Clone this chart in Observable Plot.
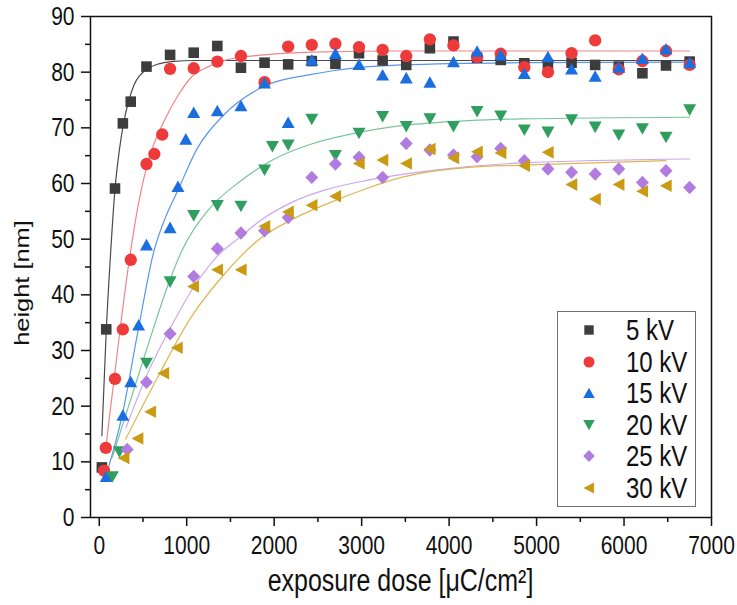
<!DOCTYPE html>
<html>
<head>
<meta charset="utf-8">
<script src="https://cdn.jsdelivr.net/npm/d3@7"></script>
<script src="https://cdn.jsdelivr.net/npm/@observablehq/plot@0.6"></script>
<style>
  body { margin: 0; background: #fff; }
  #wrap { position: relative; width: 737px; height: 605px; font-family: "Liberation Sans", Arial, sans-serif; color: #111; }
  #legend { position: absolute; left: 557px; top: 311px; width: 139px; height: 196px; border: 1px solid #707070; background: #fff; box-sizing: border-box; }
  .row { position: absolute; left: 0; width: 100%; height: 30px; }
  .row svg { position: absolute; left: 19px; top: 3px; overflow: visible; }
  .row span { position: absolute; left: 68px; top: 0; line-height: 30px; font-size: 24px; transform: scaleY(1.25); transform-origin: 0 50%; white-space: nowrap; color: #111; }
</style>
</head>
<body>
<div id="wrap"></div>
<script>
// ---- data ----
const seriesNames = ["5 kV", "10 kV", "15 kV", "20 kV", "25 kV", "30 kV"];

const dose5 = [30, 80, 180, 270, 360, 540, 810, 1080, 1350, 1620, 1890, 2160, 2430, 2700, 2970, 3240, 3510, 3780, 4050, 4320, 4590, 4860, 5130, 5400, 5670, 5940, 6210, 6480, 6750];
const height5 = [9.0, 33.8, 59.1, 70.8, 74.7, 81.0, 83.1, 83.5, 84.7, 80.8, 81.7, 81.4, 82.0, 81.5, 83.4, 82.1, 81.3, 84.3, 85.5, 82.6, 82.2, 81.6, 81.4, 81.7, 81.3, 81.0, 79.8, 81.2, 81.9];

const dose10 = [55, 75, 180, 270, 360, 540, 630, 720, 810, 1080, 1350, 1620, 1890, 2160, 2430, 2700, 2970, 3240, 3510, 3780, 4050, 4320, 4590, 4860, 5130, 5400, 5670, 5940, 6210, 6480, 6750];
const height10 = [8.4, 12.5, 24.9, 33.8, 46.3, 63.5, 65.3, 68.8, 80.6, 80.7, 81.9, 82.9, 78.2, 84.6, 84.9, 85.1, 84.5, 84.0, 82.9, 85.9, 84.8, 82.7, 83.3, 80.9, 80.0, 83.4, 85.7, 80.5, 82.0, 83.8, 81.3];

const dose15 = [80, 270, 360, 450, 540, 810, 900, 990, 1080, 1350, 1620, 1890, 2160, 2430, 2700, 2970, 3240, 3510, 3780, 4050, 4320, 4590, 4860, 5130, 5400, 5670, 5940, 6210, 6480, 6750];
const height15 = [7.4, 18.4, 24.4, 34.6, 49.0, 52.1, 59.5, 68.0, 72.8, 73.1, 74.0, 78.1, 71.0, 82.2, 83.4, 81.4, 79.5, 79.0, 78.2, 81.9, 83.8, 83.1, 79.8, 82.8, 80.6, 79.3, 80.9, 82.5, 84.2, 81.7];

const dose20 = [150, 230, 540, 810, 1080, 1350, 1620, 1890, 1980, 2160, 2430, 2700, 2970, 3240, 3510, 3780, 4050, 4320, 4590, 4860, 5130, 5400, 5670, 5940, 6210, 6480, 6750];
const height20 = [7.3, 11.8, 27.7, 42.3, 54.2, 56.0, 55.9, 62.4, 66.6, 66.9, 71.5, 65.0, 69.0, 72.0, 70.2, 71.6, 70.2, 72.9, 72.1, 69.6, 69.2, 71.4, 70.1, 68.7, 69.8, 68.3, 73.2];

const dose25 = [320, 540, 810, 1080, 1350, 1620, 1890, 2160, 2430, 2700, 2970, 3240, 3510, 3780, 4050, 4320, 4590, 4860, 5130, 5400, 5670, 5940, 6210, 6480, 6750];
const height25 = [12.2, 24.3, 33.0, 43.3, 48.3, 51.1, 51.5, 53.9, 61.1, 63.5, 64.7, 61.1, 67.2, 66.0, 65.1, 64.8, 66.3, 64.1, 62.6, 62.0, 61.7, 62.6, 60.2, 62.3, 59.3];

const dose30 = [280, 440, 585, 735, 890, 1075, 1350, 1620, 1890, 2160, 2430, 2700, 2970, 3240, 3510, 3780, 4050, 4320, 4590, 4860, 5130, 5400, 5670, 5940, 6210, 6480];
const height30 = [10.7, 14.2, 19.0, 25.9, 30.5, 41.5, 44.5, 44.5, 52.3, 54.9, 56.1, 57.7, 63.6, 64.2, 63.6, 66.2, 64.6, 65.7, 65.5, 63.2, 65.6, 59.8, 57.2, 59.8, 58.6, 59.6];

// fitted curves, points
const fitDose5 = [30, 80, 130, 180, 230, 280, 340, 400, 470, 550, 680, 820, 1100, 1600, 6750];
const fitHeight5 = [14.7, 33.5, 47.5, 59.0, 66.0, 71.0, 75.0, 77.8, 79.5, 80.6, 81.5, 81.9, 82.1, 82.1, 82.1];
const fitDose10 = [72, 120, 167, 260, 359, 450, 569, 741, 900, 1047, 1250, 1429, 1888, 2427, 3500, 6750];
const fitHeight10 = [11.9, 18.5, 24.5, 36.5, 47.9, 56.5, 64.5, 71.2, 75.8, 79.0, 81.0, 82.1, 83.1, 83.6, 83.8, 83.8];
const fitDose15 = [72, 264, 436, 626, 760, 894, 1124, 1429, 1888, 2427, 2690, 3455, 4831, 6750];
const fitHeight15 = [7.2, 18.5, 32.9, 47.9, 54.0, 58.6, 66.4, 72.4, 77.5, 79.6, 80.3, 81.3, 81.7, 81.8];
const fitDose20 = [149, 511, 818, 932, 1239, 1620, 2002, 2427, 2886, 3455, 4220, 4831, 6750];
const fitHeight20 = [10.8, 28.7, 43.1, 47.5, 55.1, 60.5, 64.4, 67.1, 68.9, 70.4, 71.3, 71.6, 71.9];
const fitDose25 = [305, 550, 818, 1085, 1353, 1620, 1830, 2213, 2595, 3073, 3837, 4831, 6750];
const fitHeight25 = [16.1, 25.8, 34.2, 41.5, 47.0, 50.5, 53.2, 56.7, 58.9, 60.6, 62.4, 63.7, 64.4];
const fitDose30 = [302, 665, 1047, 1429, 1830, 2213, 2595, 3073, 3455, 4220, 4831, 6480];
const fitHeight30 = [14.1, 25.1, 35.9, 43.7, 50.0, 53.6, 56.3, 59.2, 61.1, 62.9, 63.3, 64.1];

const xMajorTicks = [0, 1000, 2000, 3000, 4000, 5000, 6000, 7000];
const xMinorTicks = [500, 1500, 2500, 3500, 4500, 5500, 6500];
const yMajorTicks = [0, 10, 20, 30, 40, 50, 60, 70, 80, 90];
const yMinorTicks = [5, 15, 25, 35, 45, 55, 65, 75, 85];

// ---- styles ----
const markerColors = ["#3d3d3d", "#ee3a3b", "#1b6ee0", "#2f9e5f", "#b17be0", "#c99a12"];
const lineColors = ["#4a4a4a", "#f28585", "#5a96ea", "#78c69a", "#cba6f0", "#deb652"];

function poly(pts) {
  return {
    draw(ctx, size) {
      const k = Math.sqrt(size / Math.PI);
      ctx.moveTo(pts[0][0] * k, pts[0][1] * k);
      for (let i = 1; i < pts.length; ++i) ctx.lineTo(pts[i][0] * k, pts[i][1] * k);
      ctx.closePath();
    }
  };
}
const symSquare = poly([[-0.84, -0.84], [0.84, -0.84], [0.84, 0.84], [-0.84, 0.84]]);
const symCircle = { draw(ctx, size) { const k = Math.sqrt(size / Math.PI) * 0.98; ctx.moveTo(k, 0); ctx.arc(0, 0, k, 0, 2 * Math.PI); } };
const symUp = poly([[0, -0.93], [1.03, 0.9], [-1.03, 0.9]]);
const symDown = poly([[0, 0.93], [1.03, -0.9], [-1.03, -0.9]]);
const symDiamond = poly([[0, -1.07], [1.03, 0], [0, 1.07], [-1.03, 0]]);
const symLeft = poly([[-0.98, 0], [0.9, -1.0], [0.9, 1.0]]);
const symbols = [symSquare, symCircle, symUp, symDown, symDiamond, symLeft];

const doses = [dose5, dose10, dose15, dose20, dose25, dose30];
const heights = [height5, height10, height15, height20, height25, height30];
const fitDoses = [fitDose5, fitDose10, fitDose15, fitDose20, fitDose25, fitDose30];
const fitHeights = [fitHeight5, fitHeight10, fitHeight15, fitHeight20, fitHeight25, fitHeight30];

const pts = (xs, ys) => xs.map((x, i) => ({ x, y: ys[i] }));

const lineMarks = seriesNames.map((s, i) =>
  Plot.line(pts(fitDoses[i], fitHeights[i]), { x: "x", y: "y", stroke: lineColors[i], strokeWidth: 1.2, curve: "monotone-x" })
);
const dotMarks = seriesNames.map((s, i) =>
  Plot.dot(pts(doses[i], heights[i]), { x: "x", y: "y", symbol: symbols[i], fill: markerColors[i], r: 6.3 })
);

const fmt = d => String(d);
const svg = Plot.plot({
  width: 737,
  height: 605,
  marginLeft: 90,
  marginRight: 26,
  marginTop: 16,
  marginBottom: 88,
  x: { domain: [-100, 7000], label: null },
  y: { domain: [0, 90], label: null },
  style: { fontFamily: '"Liberation Sans", Arial, sans-serif', background: "white", color: "#111" },
  marks: [
    ...lineMarks,
    ...dotMarks,
    Plot.frame({ stroke: "#111", strokeWidth: 1.5 }),
    Plot.axisX({ ticks: xMajorTicks, tickSize: 9, tickPadding: 9, tickFormat: fmt, fontSize: 21, strokeWidth: 1.5, label: null }),
    Plot.axisX({ ticks: xMinorTicks, tickSize: 5, tickFormat: () => "", strokeWidth: 1.5, label: null }),
    Plot.axisY({ ticks: yMajorTicks, tickSize: 9, tickPadding: 7, tickFormat: fmt, fontSize: 21, strokeWidth: 1.5, label: null }),
    Plot.axisY({ ticks: yMinorTicks, tickSize: 5, tickFormat: () => "", strokeWidth: 1.5, label: null })
  ]
});

// stretch tick labels vertically to match the reference lettering
svg.querySelectorAll('g[aria-label$="tick label"] text').forEach(t => {
  const tr = t.getAttribute("transform");
  if (tr) t.setAttribute("transform", tr + " scale(1,1.25)");
});

const sel = d3.select(svg);
sel.append("text")
  .attr("transform", "translate(400.5,591) scale(1,1.25)")
  .attr("text-anchor", "middle")
  .attr("font-size", 25)
  .attr("fill", "#111")
  .text("exposure dose [μC/cm²]");
sel.append("text")
  .attr("transform", "translate(29,283) rotate(-90) scale(1.27,1)")
  .attr("text-anchor", "middle")
  .attr("font-size", 20)
  .attr("fill", "#111")
  .text("height [nm]");

const wrap = document.getElementById("wrap");
wrap.appendChild(svg);

// legend
const legend = document.createElement("div");
legend.id = "legend";
seriesNames.forEach((name, i) => {
  const row = document.createElement("div");
  row.className = "row";
  row.style.top = (19 + i * 31.6 - 15 - 1) + "px";
  const s = d3.create("svg").attr("width", 24).attr("height", 24);
  s.append("path")
    .attr("transform", "translate(12,12)")
    .attr("d", d3.symbol(symbols[i], Math.PI * 5.6 * 5.6)())
    .attr("fill", markerColors[i]);
  row.appendChild(s.node());
  const span = document.createElement("span");
  span.textContent = name;
  row.appendChild(span);
  legend.appendChild(row);
});
wrap.appendChild(legend);
</script>
</body>
</html>
